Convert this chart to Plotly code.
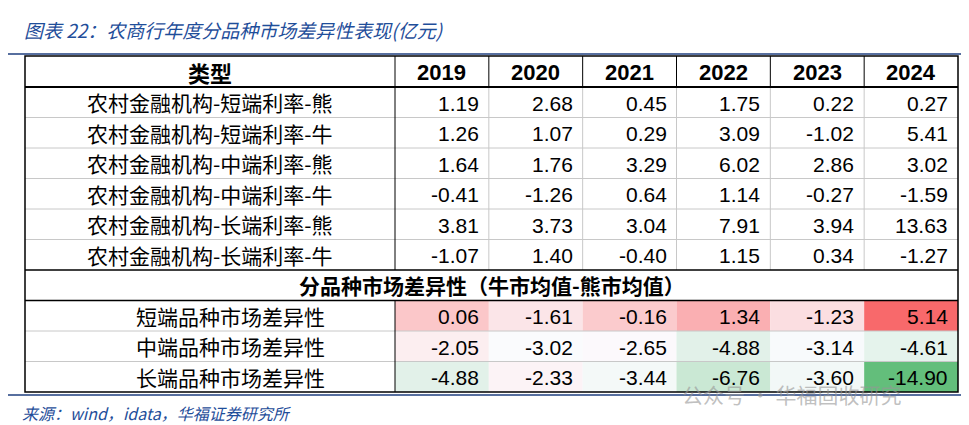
import plotly.graph_objects as go

W, H = 969, 425

title = "图表 22：农商行年度分品种市场差异性表现(亿元)"
source = "来源：wind，idata，华福证券研究所"
watermark = "公众号 · 华福固收研究"

years = ["2019", "2020", "2021", "2022", "2023", "2024"]
row_labels = [
    "农村金融机构-短端利率-熊",
    "农村金融机构-短端利率-牛",
    "农村金融机构-中端利率-熊",
    "农村金融机构-中端利率-牛",
    "农村金融机构-长端利率-熊",
    "农村金融机构-长端利率-牛",
]
row_values = [
    [1.19, 2.68, 0.45, 1.75, 0.22, 0.27],
    [1.26, 1.07, 0.29, 3.09, -1.02, 5.41],
    [1.64, 1.76, 3.29, 6.02, 2.86, 3.02],
    [-0.41, -1.26, 0.64, 1.14, -0.27, -1.59],
    [3.81, 3.73, 3.04, 7.91, 3.94, 13.63],
    [-1.07, 1.40, -0.40, 1.15, 0.34, -1.27],
]
section_label = "分品种市场差异性（牛市均值-熊市均值）"
diff_labels = ["短端品种市场差异性", "中端品种市场差异性", "长端品种市场差异性"]
diff_values = [
    [0.06, -1.61, -0.16, 1.34, -1.23, 5.14],
    [-2.05, -3.02, -2.65, -4.88, -3.14, -4.61],
    [-4.88, -2.33, -3.44, -6.76, -3.60, -14.90],
]

# table geometry
x0, x1, xr = 17, 387, 950
y0, hh, rh = 48, 31, 30.5
cw = (xr - x1) / len(years)
cn_font = "Noto Sans CJK SC"
num_font = "Liberation Sans, Arial"

# excel-style 3-colour scale: green (min) - white (median) - red (max)
flat = sorted(v for r in diff_values for v in r)
n = len(flat)
vmin, vmax = flat[0], flat[-1]
vmid = (flat[n // 2 - 1] + flat[n // 2]) / 2


def mix(c1, c2, t):
    return "rgb(%d,%d,%d)" % tuple(round(a + (b - a) * t) for a, b in zip(c1, c2))


def scale_color(v):
    white = (252, 252, 255)
    if v >= vmid:
        return mix(white, (248, 105, 107), (v - vmid) / (vmax - vmid))
    return mix(white, (99, 190, 123), (vmid - v) / (vmid - vmin))


shapes, ann = [], []


def text(x, y, s, size=19, font=cn_font, anchor="center", bold=False, color="black", italic=False):
    if bold:
        s = "<b>" + s + "</b>"
    if italic:
        s = "<i>" + s + "</i>"
    ann.append(dict(x=x, y=y, text=s, showarrow=False, xanchor=anchor, yanchor="middle",
                    font=dict(family=font, size=size, color=color)))


def line(xa, ya, xb, yb, color="black", width=1):
    shapes.append(dict(type="line", x0=xa, y0=ya, x1=xb, y1=yb, line=dict(color=color, width=width)))


# header
text((x0 + x1) / 2, y0 + hh / 2, "类型", size=22, bold=True)
for j, yr in enumerate(years):
    text(x1 + cw * (j + 0.5), y0 + hh / 2 + 1, yr, size=22, font=num_font, bold=True)

yy = y0 + hh
for lab, vals in zip(row_labels, row_values):
    cy = yy + rh / 2
    text((x0 + x1) / 2, cy, lab, size=21)
    for j, v in enumerate(vals):
        text(x1 + cw * (j + 1) - 8, cy + 1, "%.2f" % v, size=21, font=num_font, anchor="right")
    yy += rh
sec_top = yy
text((x0 + xr) / 2, yy + rh / 2, section_label, size=21, bold=True)
yy += rh
diff_top = yy
for lab, vals in zip(diff_labels, diff_values):
    cy = yy + rh / 2
    for j, v in enumerate(vals):
        shapes.append(dict(type="rect", x0=x1 + cw * j, x1=x1 + cw * (j + 1), y0=yy, y1=yy + rh,
                           fillcolor=scale_color(v), line=dict(width=0), layer="below"))
    text((x0 + x1) / 2 + 20, cy, lab, size=21)
    for j, v in enumerate(vals):
        text(x1 + cw * (j + 1) - 8, cy + 1, "%.2f" % v, size=21, font=num_font, anchor="right")
    yy += rh
y_end = yy

# grid lines
r = y0 + hh
for k in range(len(row_labels) - 1):
    r += rh
    line(x0, r, xr, r, color="#c8c8c8")
for k in range(1, len(diff_labels)):
    line(x0, diff_top + rh * k, xr, diff_top + rh * k, color="#c8c8c8")
for j in range(1, len(years)):
    xx = x1 + cw * j
    line(xx, y0, xx, y0 + hh, color="black")
    line(xx, y0 + hh, xx, sec_top, color="#c8c8c8")
line(x1, y0, x1, sec_top, color="black")
line(x1, diff_top, x1, y_end, color="black")
line(x0, y0 + hh, xr, y0 + hh, width=2)
line(x0, sec_top, xr, sec_top, width=1.5)
line(x0, diff_top, xr, diff_top, width=1.5)
shapes.append(dict(type="rect", x0=x0, x1=xr, y0=y0, y1=y_end, line=dict(color="black", width=1.5)))

# title and footer
blue = "#1f4e9a"
text(14, 21, title, size=19, anchor="left", color=blue, italic=True)
line(0, 46, W, 46, color="#1f3f7f", width=1.5)
line(0, 387, W, 387, color="#1f3f7f", width=1.5)
text(12, 405, source, size=16, anchor="left", color=blue, italic=True)
text(672, 386, watermark, size=21, anchor="left", color="rgba(150,150,150,0.6)")

fig = go.Figure()
fig.update_layout(
    width=W, height=H, margin=dict(l=0, r=0, t=0, b=0),
    paper_bgcolor="white", plot_bgcolor="white",
    xaxis=dict(range=[0, W], visible=False, fixedrange=True),
    yaxis=dict(range=[H, 0], visible=False, fixedrange=True),
    shapes=shapes, annotations=ann, showlegend=False,
)
fig.write_html("out.html")
